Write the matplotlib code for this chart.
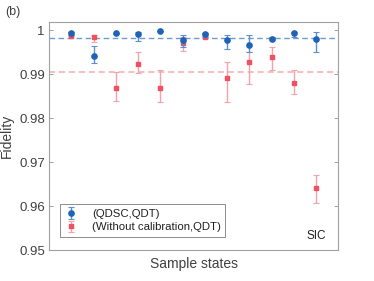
import matplotlib
matplotlib.use("Agg")
import matplotlib.pyplot as plt
import numpy as np

plt.rcParams['font.family'] = ['Liberation Sans', 'DejaVu Sans']

states = list(range(1, 13))
qdsc = [0.99932, 0.99423, 0.99930, 0.99923, 0.99984, 0.99786, 0.99916, 0.99780, 0.99673, 0.99810, 0.99945, 0.99810]
qdsc_lo = [0.99900, 0.99250, 0.99915, 0.99757, 0.99975, 0.99620, 0.99840, 0.99575, 0.99500, 0.99770, 0.99840, 0.99500]
qdsc_hi = [0.99960, 0.99636, 0.99945, 0.99961, 0.99993, 0.99900, 0.99940, 0.99886, 0.99900, 0.99850, 0.99960, 0.99955]
nocal = [0.99877, 0.99855, 0.98682, 0.99241, 0.98682, 0.99705, 0.99855, 0.98923, 0.99273, 0.99393, 0.98802, 0.96416]
nocal_lo = [0.99860, 0.99727, 0.98393, 0.99030, 0.98364, 0.99523, 0.99830, 0.98364, 0.98780, 0.99105, 0.98559, 0.96068]
nocal_hi = [0.99895, 0.99886, 0.99052, 0.99507, 0.99105, 0.99840, 0.99880, 0.99286, 0.99507, 0.99627, 0.99105, 0.96705]
qdsc_mean = 0.99818
nocal_mean = 0.99059

blue = "#1f63b5"
blue_err = "#5b8fd0"
red = "#f0505f"
red_err = "#f4a3ab"
txt = "#404040"

fig = plt.figure(figsize=(3.74, 2.81), dpi=100)
ax = fig.add_axes([0.131, 0.1103, 0.7736, 0.8114])

x = np.array(states)
q = np.array(qdsc); n = np.array(nocal)
ax.axhline(qdsc_mean, color=blue_err, ls=(0, (4, 2.5)), lw=1.0, alpha=0.9, zorder=1)
ax.axhline(nocal_mean, color=red_err, ls=(0, (4, 2.5)), lw=1.1, alpha=0.9, zorder=1)

ax.errorbar(x, q, yerr=[q - np.array(qdsc_lo), np.array(qdsc_hi) - q], fmt='o', color=blue,
            ecolor=blue_err, elinewidth=1.0, capsize=2, capthick=0.8, markersize=3.8,
            label="(QDSC,QDT)", zorder=4)
ax.errorbar(x, n, yerr=[n - np.array(nocal_lo), np.array(nocal_hi) - n], fmt='s', color=red,
            ecolor=red_err, elinewidth=1.0, capsize=2, capthick=0.8, markersize=2.8,
            label="(Without calibration,QDT)", zorder=3)

ax.set_xlim(0, 13)
ax.set_ylim(0.95, 1.0019)
ax.set_yticks([0.95, 0.96, 0.97, 0.98, 0.99, 1.0])
ax.set_yticklabels(["0.95", "0.96", "0.97", "0.98", "0.99", "1"])
ax.set_xticks([])
ax.tick_params(axis='y', which='both', direction='in', right=True, length=3, width=0.6,
               colors="#909090", labelcolor=txt, labelsize=9.5, pad=3)
for s in ax.spines.values():
    s.set_color("#a0a0a0")
    s.set_linewidth(0.8)

ax.set_ylabel("Fidelity", fontsize=10, color=txt, labelpad=4)
ax.set_xlabel("Sample states", fontsize=10, color=txt, labelpad=5)
fig.text(0.013, 0.957, "(b)", fontsize=9, color=txt, ha='left', va='center')
ax.text(12, 0.9532, "SIC", fontsize=8.5, color="#202020", ha='center', va='center')

leg = ax.legend(loc='lower left', bbox_to_anchor=(0.038, 0.057), fontsize=8.2, frameon=True,
                fancybox=False, edgecolor="#707070", handlelength=1.2, handletextpad=1.2,
                borderpad=0.4, labelspacing=0.3, borderaxespad=0)
leg.get_frame().set_linewidth(0.7)
for t in leg.get_texts():
    t.set_color("#202020")

fig.savefig("out.png", dpi=100)
